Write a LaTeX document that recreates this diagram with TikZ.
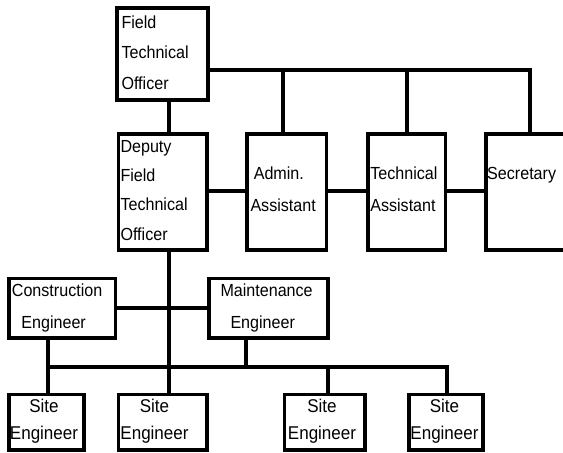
\documentclass[tikz,border=0pt]{standalone}
\usepackage{fontspec}
\setmainfont{Liberation Sans}[FakeStretch=0.92]
\usetikzlibrary{calc}
\begin{document}
\begin{tikzpicture}[x=1pt,y=-1pt,
  box/.style={draw, line width=3.7pt, inner sep=0pt, outer sep=0pt},
  conn/.style={line width=3.7pt},
  txt/.style={inner sep=0pt, outer sep=0pt, anchor=north west, align=left, font=\fontsize{17.5}{#1}\selectfont},
  txt/.default=30,
  stxt/.style={inner sep=0pt, outer sep=0pt, anchor=north, align=center, font=\fontsize{18.5}{27}\selectfont}]
\useasboundingbox (0,0) rectangle (563,453);
\clip (0,0) rectangle (563,453);
% boxes
\node[box, line width=4.3pt, minimum width=91pt, minimum height=91.8pt] (fto) at (162.5,54) {};
\node[box, minimum width=88.7pt, minimum height=116pt] (dfto) at (162.9,191.8) {};
\node[box, minimum width=79.7pt, minimum height=116pt] (admin) at (286.6,191.8) {};
\node[box, minimum width=77.7pt, minimum height=116pt] (tech) at (406.7,191.8) {};
\node[box, minimum width=154pt, minimum height=116pt] (sec) at (562.9,191.8) {};
\node[box, minimum width=106.4pt, minimum height=59.7pt] (con) at (62.3,308.3) {};
\node[box, minimum width=119.4pt, minimum height=59.7pt] (mnt) at (268.5,308.3) {};
\node[box, minimum width=75.1pt, minimum height=55.4pt] (s1) at (46.6,422.2) {};
\node[box, minimum width=88.7pt, minimum height=55.4pt] (s2) at (162.8,422.2) {};
\node[box, minimum width=80.4pt, minimum height=55.4pt] (s3) at (324.7,422.2) {};
\node[box, minimum width=74.4pt, minimum height=55.4pt] (s4) at (446,422.2) {};
% texts
\node[txt=30.5] (ftoT) at (121.5,15.5) {Field\\Technical\\Officer};
\node[txt=29.3] (dftoT) at (120.5,140.2) {Deputy\\Field\\Technical\\Officer};
\node[txt=31.7] (adminT) at (250.5,167.2) {\hspace{3.3pt}Admin.\\Assistant};
\node[txt=31.7] (techT) at (370.3,167.2) {Technical\\Assistant};
\node[txt=31.7] (secT) at (487.2,167.2) {Secretary};
\node[txt=31.6] (conT) at (11.9,284) {Construction\\\hspace{9.5pt}Engineer};
\node[txt=31.6] (mntT) at (220.5,284.2) {Maintenance\\\hspace{10pt}Engineer};
\node[stxt] (s1T) at (44,399.5) {Site\\Engineer};
\node[stxt] (s2T) at (154.5,399.5) {Site\\Engineer};
\node[stxt] (s3T) at (322,399.5) {Site\\Engineer};
\node[stxt] (s4T) at (444.5,399.5) {Site\\Engineer};
% connectors
\coordinate (d1) at (283,70);
\coordinate (d2) at (407,70);
\coordinate (d3) at (530,70);
\draw[conn] (fto.east |- d1) -- (d3) -- (sec.north -| d3);
\draw[conn] (d1) -- (admin.north -| d1);
\draw[conn] (d2) -- (tech.north -| d2);
\coordinate (vx) at (169,0);
\draw[conn] (fto.south -| vx) -- (dfto.north -| vx);
\draw[conn] (dfto.south -| vx) -- (s2.north -| vx);
\coordinate (my) at (0,191.3);
\draw[conn] (dfto.east |- my) -- (admin.west |- my);
\draw[conn] (admin.east |- my) -- (tech.west |- my);
\draw[conn] (tech.east |- my) -- (sec.west |- my);
\draw[conn] (con.east) -- (mnt.west);
\coordinate (l1) at (48.3,367);
\coordinate (l2) at (246,367);
\coordinate (l3) at (328.3,367);
\coordinate (l4) at (447,367);
\draw[conn] (con.south -| l1) -- (s1.north -| l1);
\draw[conn] (mnt.south -| l2) -- (l2);
\draw[conn] (l1) -- (l4) -- (s4.north -| l4);
\draw[conn] (l3) -- (s3.north -| l3);
\end{tikzpicture}
\end{document}
